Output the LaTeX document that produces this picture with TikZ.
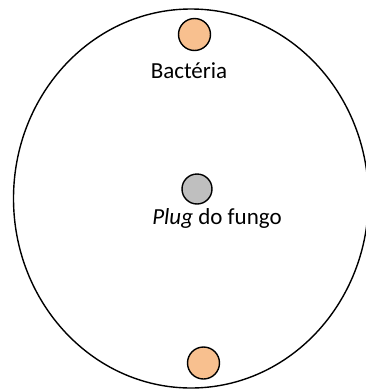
\documentclass[tikz,border=0pt]{standalone}
\usepackage{fontspec}
\setmainfont{Carlito}
\definecolor{bact}{RGB}{248,192,143}
\definecolor{plug}{RGB}{191,191,191}
\begin{document}
\begin{tikzpicture}[x=1pt,y=-1pt,
  dot/.style={circle,draw=black,line width=1.4pt,minimum size=32pt,inner sep=0pt},
  lbl/.style={font=\fontsize{23}{27}\selectfont,inner sep=0pt}]
\useasboundingbox (0,0) rectangle (366,389);
\begin{scope}
\clip (0,0) rectangle (366,389);
\draw[line width=1.4pt] (191,198.5) ellipse [x radius=177.5, y radius=189.5];
\end{scope}
\node[dot,fill=bact] (b1) at (194.5,34.5) {};
\node[lbl] (t1) at (189,71) {Bactéria};
\node[dot,fill=plug,minimum size=30pt] (p) at (197,189) {};
\node[lbl] (t2) at (217,218) {\textit{Plug} do fungo};
\node[dot,fill=bact] (b2) at (203.5,363) {};
\end{tikzpicture}
\end{document}
